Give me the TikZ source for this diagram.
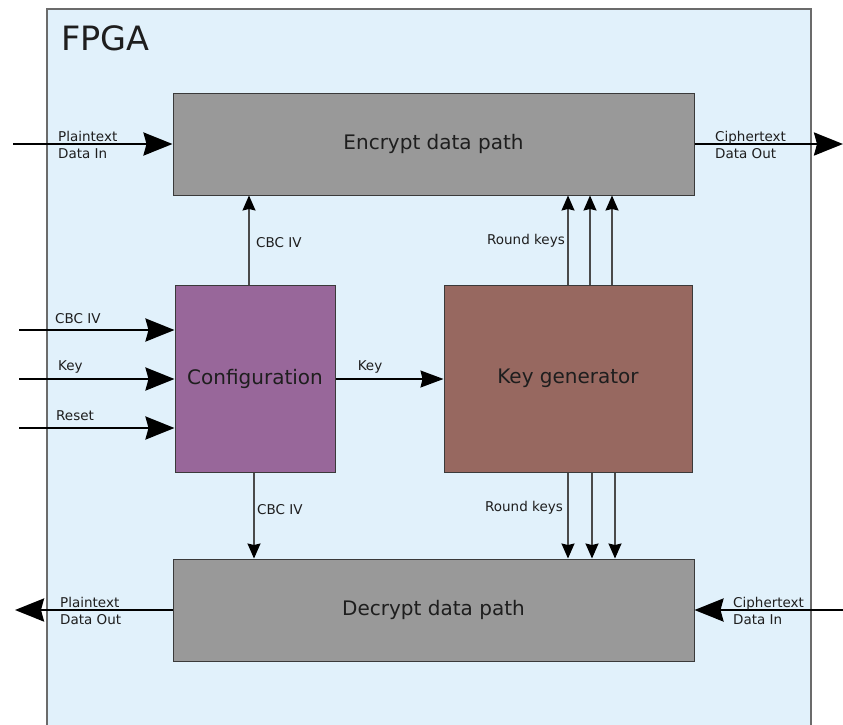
\documentclass[tikz,border=0pt]{standalone}
\usepackage{fontspec}
\setmainfont{DejaVu Sans}
\usetikzlibrary{arrows.meta}
\definecolor{fpgafill}{HTML}{E1F1FB}
\definecolor{fpgaedge}{HTML}{6B6B6B}
\definecolor{pathfill}{HTML}{999999}
\definecolor{cfgfill}{HTML}{98679A}
\definecolor{kgfill}{HTML}{976860}
\definecolor{boxedge}{HTML}{3A3A3A}
\definecolor{txt}{HTML}{1E1E1E}
\definecolor{wire}{HTML}{4A4A4A}
\tikzset{
  block/.style={draw=boxedge, line width=1pt, rectangle, inner sep=0pt,
    font=\fontsize{20}{24}\selectfont, text=txt},
  lbl/.style={font=\fontsize{13.5}{16.5}\selectfont, text=txt, inner sep=0pt,
    align=left},
  bus/.style={line width=2.6pt, black,
    -{Stealth[length=29pt, width=23pt, inset=3pt]}},
  sig/.style={line width=1.3pt, wire,
    -{Stealth[length=15pt, width=13pt, inset=1.5pt, color=black]}},
  keysig/.style={line width=1.3pt, black,
    -{Stealth[length=23pt, width=17pt, inset=2pt]}},
}
\begin{document}
\begin{tikzpicture}[x=1pt, y=-1pt]
\useasboundingbox (0,0) rectangle (843,724);

% FPGA outline (runs past the lower edge)
\fill[fpgafill] (47,9) rectangle (811,740);
\draw[fpgaedge, line width=1.6pt] (47,740) -- (47,9) -- (811,9) -- (811,740);
\node[anchor=west, inner sep=0pt, font=\fontsize{33.5}{38}\selectfont, text=txt]
  (fpgatitle) at (61,38) {FPGA};

% functional blocks
\node[block, fill=pathfill, minimum width=521pt, minimum height=102pt]
  (enc) at (433.5,144) {Encrypt data path};
\node[block, fill=pathfill, minimum width=521pt, minimum height=102pt]
  (dec) at (433.5,610) {Decrypt data path};
\node[block, fill=cfgfill, minimum width=160pt, minimum height=187pt]
  (cfg) at (255,378.5) {Configuration};
\node[block, fill=kgfill, minimum width=248pt, minimum height=187pt]
  (kg) at (568,378.5) {Key generator};

% external data ports
\coordinate (ptin)  at (13,144);
\coordinate (ctout) at (843,144);
\coordinate (ptout) at (15,610);
\coordinate (ctin)  at (843,610);
\draw[bus] (ptin) -- (enc.west);
\draw[bus] (enc.east) -- (ctout);
\draw[bus] (dec.west) -- (ptout);
\draw[bus] (ctin) -- (dec.east);

\node[lbl, anchor=west] (ptinl)  at (58,145)  {Plaintext\\Data In};
\node[lbl, anchor=west] (ctoutl) at (715,145) {Ciphertext\\Data Out};
\node[lbl, anchor=west] (ptoutl) at (60,611)  {Plaintext\\Data Out};
\node[lbl, anchor=west] (ctinl)  at (733,611) {Ciphertext\\Data In};

% configuration inputs
\coordinate (ivin)  at (19,330);
\coordinate (keyin) at (19,379);
\coordinate (rstin) at (19,428);
\draw[bus] (ivin)  -- (ivin -| cfg.west);
\draw[bus] (keyin) -- (keyin -| cfg.west);
\draw[bus] (rstin) -- (rstin -| cfg.west);
\node[lbl, anchor=west] (ivinl)  at (55,319) {CBC IV};
\node[lbl, anchor=west] (keyinl) at (58,367) {Key};
\node[lbl, anchor=west] (rstinl) at (56,416) {Reset};

% configuration to key generator
\draw[keysig] (cfg.east |- keyin) -- (kg.west |- keyin);
\node[lbl] (keyl) at (370,367) {Key};

% IV to both data paths
\draw[sig] ([xshift=-6pt]cfg.north) -- ([xshift=-6pt]cfg.north |- enc.south);
\draw[sig] ([xshift=-1pt]cfg.south) -- ([xshift=-1pt]cfg.south |- dec.north);
\node[lbl, anchor=west] (ivupl) at (256,243) {CBC IV};
\node[lbl, anchor=west] (ivdnl) at (257,510) {CBC IV};

% round keys to both data paths
\foreach \dx in {0,22,44}
  \draw[sig] ([xshift=\dx pt]kg.north) -- ([xshift=\dx pt]kg.north |- enc.south);
\foreach \dx in {0,24,47}
  \draw[sig] ([xshift=\dx pt]kg.south) -- ([xshift=\dx pt]kg.south |- dec.north);
\node[lbl, anchor=east] (rkupl) at (565,241) {Round keys};
\node[lbl, anchor=east] (rkdnl) at (563,508) {Round keys};
\end{tikzpicture}
\end{document}
